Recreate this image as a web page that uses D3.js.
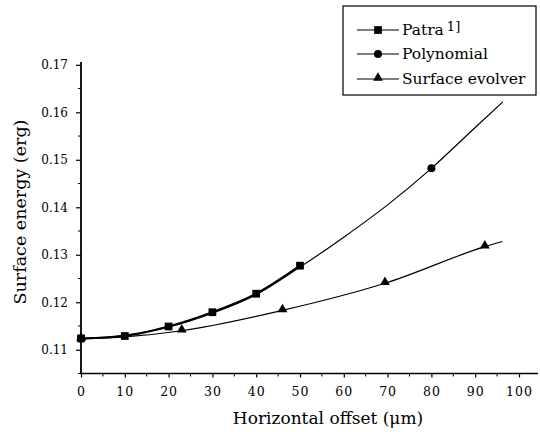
<!DOCTYPE html>
<html>
<head>
<meta charset="utf-8">
<script src="https://cdn.jsdelivr.net/npm/d3@7"></script>
<style>
  body { margin: 0; background: #fff; }
  text { font-family: "DejaVu Serif", "Liberation Serif", serif; fill: #000; }
</style>
</head>
<body>
<svg id="chart"></svg>
<script>
let svgW = 540, svgH = 432;

// values
let xTicks = [0, 10, 20, 30, 40, 50, 60, 70, 80, 90, 100];
let yTicks = [0.11, 0.12, 0.13, 0.14, 0.15, 0.16, 0.17];

let patraX = [0, 10, 20, 30, 40, 50];
let patraY = [0.1124, 0.1129, 0.1149, 0.1179, 0.1218, 0.1277];

let polyX = [0, 10, 20, 30, 40, 50, 60, 70, 80, 90, 96.3];
let polyY = [0.1123, 0.1131, 0.1148, 0.1177, 0.1216, 0.1274, 0.1337, 0.1405, 0.1482, 0.1568, 0.1622];
let polyMarkX = [0, 80];

let evolX = [0, 10, 23, 46, 69.4, 92.2, 96.2];
let evolY = [0.1123, 0.1127, 0.1140, 0.1183, 0.1240, 0.1317, 0.1328];
let evolMarkX = [0, 23, 46, 69.4, 92.2];

let legendNames = ["Patra", "Polynomial", "Surface evolver"];

let xScale = d3.scaleLinear().domain([0, 100]).range([81, 519]);
let yScale = d3.scaleLinear().domain([0.105, 0.17]).range([373.5, 64.8]);

let svg = d3.select("#chart")
    .attr("width", svgW)
    .attr("height", svgH);

// x axis
let xAxis = d3.axisBottom(xScale)
    .tickValues(xTicks)
    .tickSize(4)
    .tickPadding(10)
    .tickFormat(d3.format("d"));
let gx = svg.append("g")
    .attr("transform", "translate(0," + yScale(0.105) + ")")
    .call(xAxis);
gx.select(".domain").remove();
gx.append("line").attr("x1", 80).attr("x2", 538).attr("stroke", "#000").attr("stroke-width", 1.6);
gx.selectAll(".tick line").attr("stroke-width", 1.2);
gx.selectAll(".tick text")
    .style("font-size", "12.5px")
    .style("letter-spacing", "1px")
    .style("font-family", "DejaVu Serif");
gx.selectAll(".minor")
    .data(d3.range(5, 100, 10))
    .enter().append("line")
    .attr("x1", d => xScale(d)).attr("x2", d => xScale(d))
    .attr("y1", 0).attr("y2", 3)
    .attr("stroke", "#000");

// y axis
let yAxis = d3.axisLeft(yScale)
    .tickValues(yTicks)
    .tickSize(5)
    .tickPadding(8)
    .tickFormat(d3.format(".2f"));
let gy = svg.append("g")
    .attr("transform", "translate(" + xScale(0) + ",0)")
    .call(yAxis);
gy.select(".domain").remove();
gy.append("line").attr("y1", 374).attr("y2", 62).attr("stroke", "#000").attr("stroke-width", 1.8);
gy.selectAll(".tick line").attr("stroke-width", 1.2);
gy.selectAll(".tick text").style("font-size", "12px").style("font-family", "DejaVu Serif");
gy.selectAll(".minor")
    .data(d3.range(0.105, 0.17, 0.01))
    .enter().append("line")
    .attr("y1", d => yScale(d)).attr("y2", d => yScale(d))
    .attr("x1", 0).attr("x2", -3)
    .attr("stroke", "#000");

// axis titles
svg.append("text")
    .attr("x", 328).attr("y", 424)
    .attr("text-anchor", "middle")
    .style("font-size", "17px")
    .text("Horizontal offset (\u03bcm)");

svg.append("text")
    .attr("transform", "translate(26,212) rotate(-90)")
    .attr("text-anchor", "middle")
    .style("font-size", "17.5px")
    .text("Surface energy (erg)");

let line = d3.line()
    .x(d => xScale(d[0]))
    .y(d => yScale(d[1]))
    .curve(d3.curveMonotoneX);

let polyData = d3.zip(polyX, polyY);
let patraData = d3.zip(patraX, patraY);
let evolData = d3.zip(evolX, evolY);

svg.append("path").datum(polyData)
    .attr("d", line).attr("fill", "none").attr("stroke", "#000").attr("stroke-width", 1.2);
svg.append("path").datum(evolData)
    .attr("d", line).attr("fill", "none").attr("stroke", "#000").attr("stroke-width", 1.2);
svg.append("path").datum(patraData)
    .attr("d", line).attr("fill", "none").attr("stroke", "#000").attr("stroke-width", 2.2);

let sq = d3.symbol().type(d3.symbolSquare).size(60);
let ci = d3.symbol().type(d3.symbolCircle).size(50);
let tr = d3.symbol().type(d3.symbolTriangle).size(42);

svg.selectAll(".poly")
    .data(polyData.filter(d => polyMarkX.includes(d[0])))
    .enter().append("path")
    .attr("transform", d => "translate(" + xScale(d[0]) + "," + yScale(d[1]) + ")")
    .attr("d", ci);

svg.selectAll(".evol")
    .data(evolData.filter(d => evolMarkX.includes(d[0])))
    .enter().append("path")
    .attr("transform", d => "translate(" + xScale(d[0]) + "," + (yScale(d[1]) - 1) + ")")
    .attr("d", tr);

svg.selectAll(".patra")
    .data(patraData)
    .enter().append("path")
    .attr("transform", d => "translate(" + xScale(d[0]) + "," + yScale(d[1]) + ")")
    .attr("d", sq);

// legend
let lg = svg.append("g");
lg.append("rect")
    .attr("x", 343).attr("y", 6).attr("width", 193).attr("height", 89)
    .attr("fill", "#fff").attr("stroke", "#000").attr("stroke-width", 1.2);

let legendRows = [30, 54, 79];
let legendSyms = [sq, ci, tr];
legendNames.forEach(function (name, i) {
    let y = legendRows[i];
    lg.append("line")
        .attr("x1", 357).attr("x2", 399).attr("y1", y).attr("y2", y)
        .attr("stroke", "#000").attr("stroke-width", 1.2);
    lg.append("path")
        .attr("transform", "translate(378," + (i == 2 ? y - 1 : y) + ")")
        .attr("d", legendSyms[i]);
    let t = lg.append("text")
        .attr("x", 402).attr("y", y + 5)
        .style("font-size", "15.5px")
        .text(name);
    if (i == 0) {
        t.append("tspan").attr("dx", 3).attr("dy", -4).style("font-size", "13px").text("1]");
    }
});
</script>
</body>
</html>
